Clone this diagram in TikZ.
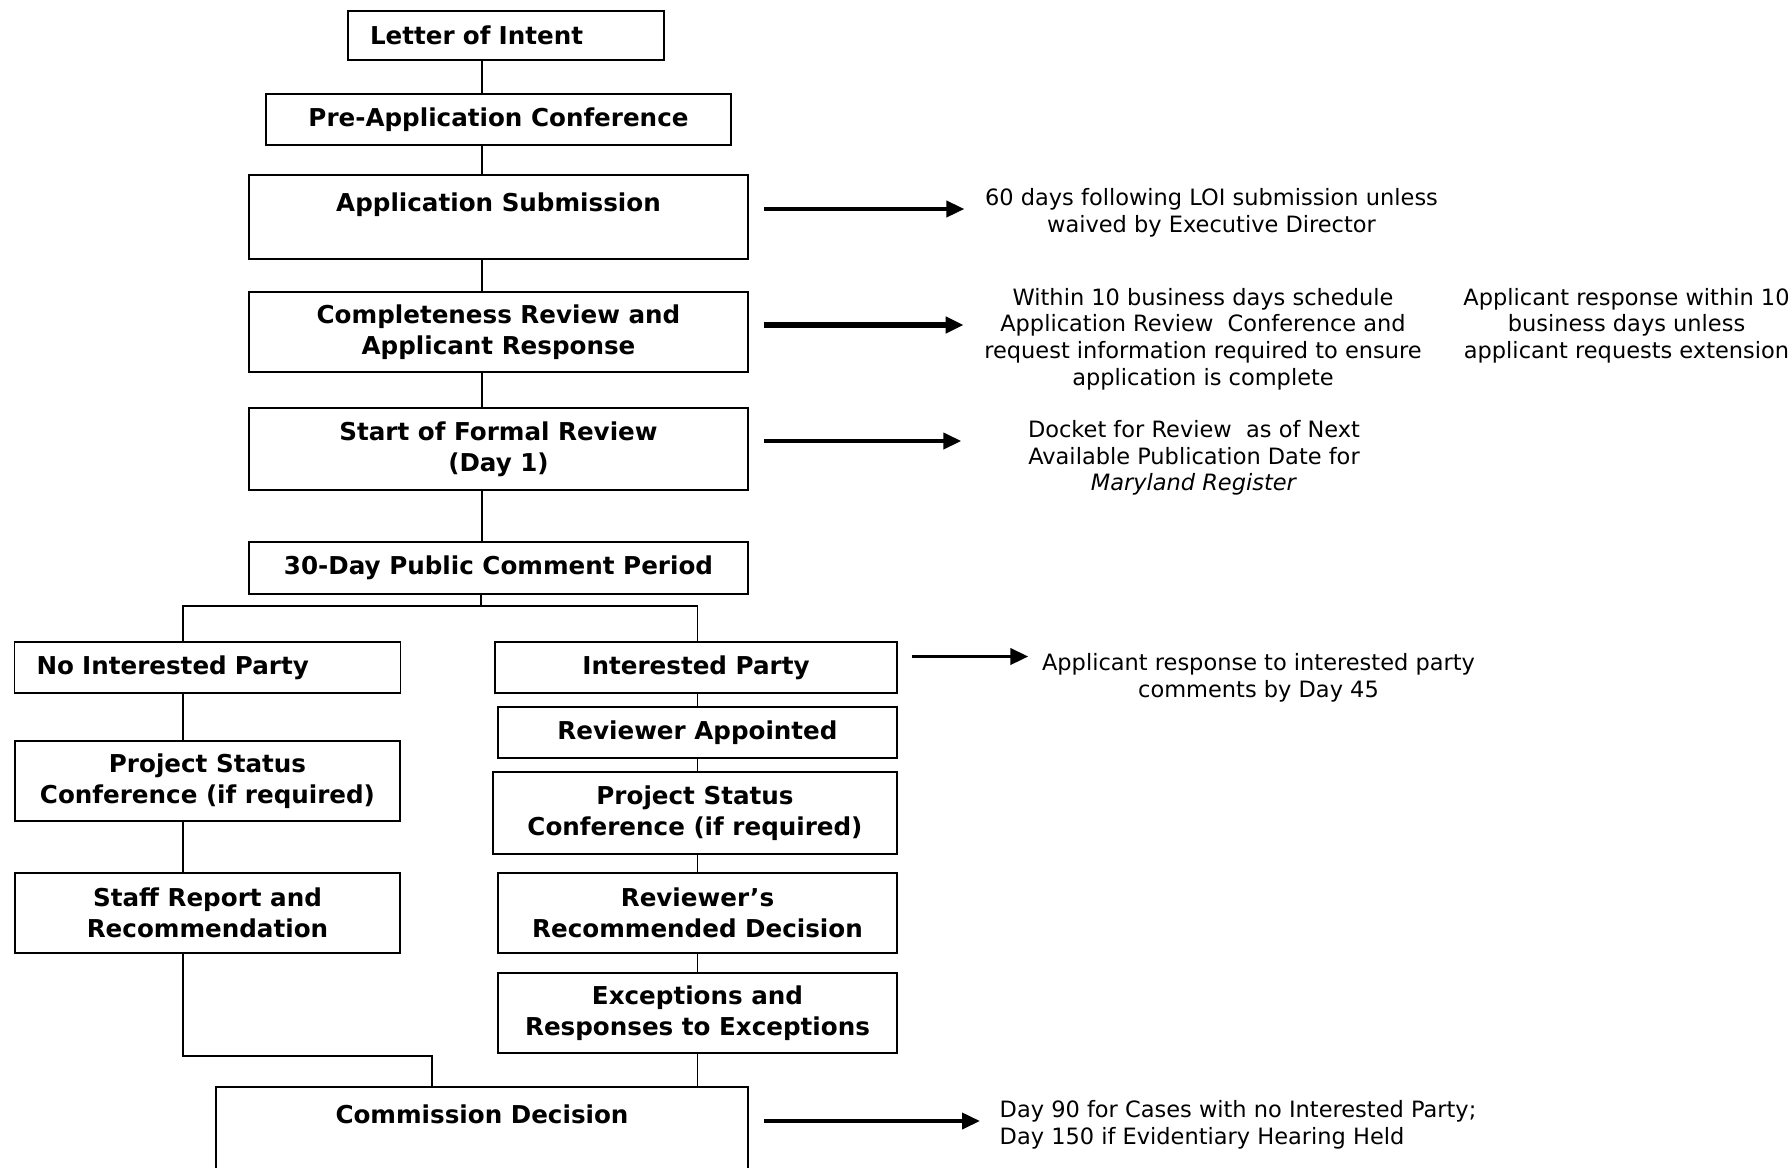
\documentclass[tikz,border=0pt]{standalone}
\usepackage{fontspec}
\setmainfont{DejaVu Sans}
\usepackage{tikz}
\usetikzlibrary{arrows.meta}
\tikzset{
    stage/.style = {rectangle, draw=black, line width=0.5pt, inner sep=0pt, align=center, font=\fontsize{7}{8.8}\selectfont\bfseries},
    leftstage/.style = {stage, align=left, inner xsep=2.2mm},
    note/.style = {align=center, inner sep=0pt, font=\fontsize{6.4}{7.6}\selectfont},
    link/.style = {line width=0.5pt},
    arrow/.style = {line width=1.1pt, -{Triangle[length=1.8mm,width=1.6mm]}}
}
\begin{document}
\begin{tikzpicture}[x=0.1mm, y=-0.1mm]
\useasboundingbox (0,0) rectangle (1790,1167);
% main column
\node (loi) [leftstage, text width=27.2mm, minimum height=4.9mm] at (506,35.5) {Letter of Intent};
\node (pre) [stage, minimum width=46.5mm, minimum height=5.1mm] at (498.5,119.5) {Pre-Application Conference};
\node (sub) [stage, minimum width=49.9mm, minimum height=8.4mm] at (498.5,217) {Application Submission\\[-2.8pt]\strut};
\node (comp) [stage, minimum width=49.9mm, minimum height=8mm] at (498.5,332) {Completeness Review and\\Applicant Response};
\node (formal) [stage, minimum width=49.9mm, minimum height=8.2mm] at (498.5,449) {Start of Formal Review\\(Day 1)};
\node (thirty) [stage, minimum width=49.9mm, minimum height=5.2mm] at (498.5,568) {30-Day Public Comment Period};
% no interested party
\node (nip) [leftstage, text width=34.2mm, minimum height=5.1mm] at (207.5,667.5) {No Interested Party};
\node (psl) [stage, minimum width=38.5mm, minimum height=8mm] at (207.5,781) {Project Status\\Conference (if required)};
\node (staff) [stage, minimum width=38.5mm, minimum height=8mm] at (207.5,913) {Staff Report and\\Recommendation};
% interested party
\node (ip) [stage, minimum width=40.2mm, minimum height=5.1mm] at (696,667.5) {Interested Party};
\node (rev) [stage, minimum width=39.9mm, minimum height=5.1mm] at (697.5,732.5) {Reviewer Appointed};
\node (psr) [stage, minimum width=40.4mm, minimum height=8.2mm] at (695,813) {Project Status\\Conference (if required)};
\node (rrd) [stage, minimum width=39.9mm, minimum height=8mm] at (697.5,913) {Reviewer's\\Recommended Decision};
\node (exc) [stage, minimum width=39.9mm, minimum height=8mm] at (697.5,1013) {Exceptions and\\Responses to Exceptions};
\node (comm) [stage, minimum width=53.2mm, minimum height=8.4mm] at (482,1129) {Commission Decision\\[-2.8pt]\strut};
% notes
\node (n60) [note] at (1211.5,213) {60 days following LOI submission unless\\waived by Executive Director};
\node (nwithin) [note] at (1203,339) {Within 10 business days schedule\\Application Review\ \ Conference and\\request information required to ensure\\application is complete};
\node (nappl) [note] at (1626.5,325.5) {Applicant response within 10\\business days unless\\applicant requests extension};
\node (ndocket) [note] at (1194,458) {Docket for Review\ \ as of Next\\Available Publication Date for\\\textit{Maryland Register}};
\node (nip45) [note] at (1258.5,677.5) {Applicant response to interested party\\comments by Day 45};
\node (nday) [note, align=left, anchor=west] at (999,1125) {Day 90 for Cases with no Interested Party;\\Day 150 if Evidentiary Hearing Held};
\coordinate (split) at (481,606);
\coordinate (lcol) at (183,606);
\coordinate (merge) at (432,1056);

\draw [link] (loi.south -| comm.north) -- (pre.north -| comm.north);
\draw [link] (pre.south -| comm.north) -- (sub.north -| comm.north);
\draw [link] (sub.south -| comm.north) -- (comp.north -| comm.north);
\draw [link] (comp.south -| comm.north) -- (formal.north -| comm.north);
\draw [link] (formal.south -| comm.north) -- (thirty.north -| comm.north);
\draw [link] (thirty.south -| split) -- (split);
\draw [link] (nip.north -| lcol) -- (lcol) -- (lcol -| rev.north) -- (ip.north -| rev.north);
\draw [link] (nip.south -| lcol) -- (psl.north -| lcol);
\draw [link] (psl.south -| lcol) -- (staff.north -| lcol);
\draw [link] (staff.south -| lcol) |- (merge) -- (merge |- comm.north);
\draw [link] (ip.south -| rev.north) -- (rev.north);
\draw [link] (rev.south) -- (psr.north -| rev.south);
\draw [link] (psr.south -| rrd.north) -- (rrd.north);
\draw [link] (rrd) -- (exc);
\draw [link] (exc.south) -- (exc.south |- comm.north);

\draw [arrow, shorten <=1.5mm, shorten >=2mm] ([yshift=0.8mm]sub.east) coordinate (a1) -- (a1 -| n60.west);
\draw [arrow, line width=1.7pt, shorten <=1.5mm, shorten >=2mm] ([yshift=0.7mm]comp.east) coordinate (a2) -- (a2 -| nwithin.west);
\draw [arrow, shorten <=1.5mm, shorten >=6.6mm] ([yshift=0.8mm]formal.east) coordinate (a3) -- (a3 -| ndocket.west);
\draw [arrow, shorten <=1.4mm, shorten >=1.3mm] ([yshift=1.1mm]ip.east) coordinate (a4) -- (a4 -| nip45.west);
\draw [arrow, shorten <=1.5mm, shorten >=1.9mm] ([yshift=0.8mm]comm.east) coordinate (a5) -- (a5 -| nday.west);
\end{tikzpicture}
\end{document}
